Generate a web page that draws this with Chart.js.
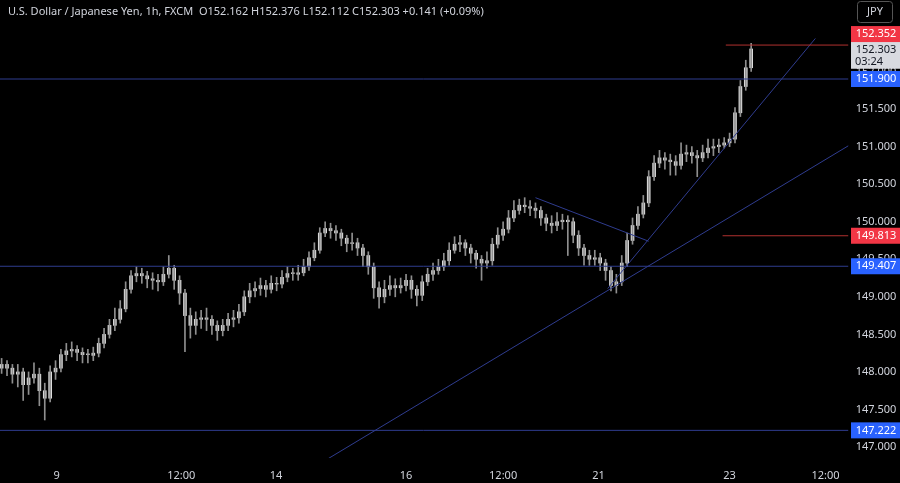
<!DOCTYPE html>
<html><head><meta charset="utf-8">
<script src="https://cdn.jsdelivr.net/npm/chart.js@4.4.1/dist/chart.umd.min.js"></script>
<style>html,body{margin:0;padding:0;background:#000;}#c{display:block;}</style>
</head><body>
<canvas id="c" width="900" height="483"></canvas>
<script>
// 2-hour candles, open = previous close
const closes=[148.10,148.05,147.97,148.00,147.83,147.92,147.97,147.75,147.65,148.00,148.05,148.23,148.28,148.30,148.26,148.23,148.22,148.25,148.38,148.50,148.62,148.70,148.84,149.10,149.28,149.31,149.28,149.24,149.22,149.20,149.30,149.38,149.22,149.05,148.75,148.62,148.70,148.72,148.70,148.62,148.55,148.62,148.70,148.72,148.80,149.00,149.08,149.11,149.15,149.10,149.18,149.17,149.26,149.31,149.30,149.32,149.40,149.52,149.62,149.85,149.91,149.88,149.85,149.78,149.71,149.72,149.65,149.55,149.40,149.12,149.00,149.10,149.15,149.12,149.15,149.22,149.10,149.02,149.20,149.30,149.35,149.40,149.48,149.62,149.70,149.72,149.65,149.58,149.50,149.45,149.48,149.70,149.82,149.90,150.05,150.15,150.22,150.20,150.18,150.15,150.05,149.98,149.95,150.00,150.02,150.00,149.82,149.65,149.55,149.50,149.52,149.45,149.35,149.15,149.20,149.45,149.75,149.95,150.10,150.25,150.60,150.78,150.85,150.82,150.80,150.75,150.90,150.92,150.88,150.85,150.92,150.98,151.00,151.02,151.05,151.10,151.45,151.80,152.05,152.30];
const firstOpen=148.05;
const highs=[148.18,148.15,148.10,148.10,148.05,148.00,148.12,148.05,147.85,148.08,148.15,148.30,148.38,148.40,148.35,148.32,148.30,148.33,148.45,148.58,148.70,148.85,148.95,149.20,149.35,149.40,149.38,149.34,149.32,149.30,149.40,149.55,149.42,149.28,149.10,148.85,148.80,148.82,148.85,148.75,148.68,148.70,148.78,148.82,148.90,149.08,149.18,149.20,149.25,149.22,149.28,149.26,149.35,149.40,149.38,149.42,149.50,149.60,149.72,149.92,150.00,149.98,149.95,149.90,149.82,149.85,149.78,149.70,149.60,149.45,149.20,149.22,149.28,149.24,149.25,149.30,149.28,149.15,149.28,149.38,149.45,149.50,149.58,149.72,149.80,149.82,149.76,149.70,149.62,149.55,149.60,149.78,149.92,150.00,150.15,150.28,150.30,150.32,150.28,150.25,150.20,150.10,150.08,150.12,150.10,150.08,150.05,149.88,149.70,149.62,149.62,149.58,149.50,149.40,149.30,149.55,149.85,150.05,150.20,150.35,150.68,150.88,150.95,150.92,150.90,150.88,151.05,151.02,151.00,150.95,151.02,151.10,151.10,151.10,151.12,151.18,151.52,151.88,152.15,152.376];
const lows=[147.98,147.95,147.85,147.80,147.62,147.70,147.85,147.55,147.36,147.60,147.90,148.00,148.15,148.20,148.15,148.12,148.12,148.15,148.20,148.32,148.45,148.55,148.65,148.80,149.05,149.20,149.18,149.12,149.10,149.08,149.15,149.25,149.10,148.90,148.27,148.45,148.50,148.58,148.55,148.50,148.42,148.48,148.55,148.60,148.65,148.75,148.92,149.00,149.02,149.00,149.05,149.08,149.12,149.20,149.22,149.22,149.28,149.35,149.48,149.58,149.80,149.78,149.75,149.68,149.60,149.62,149.55,149.40,149.30,148.98,148.85,148.92,149.02,149.00,149.05,149.08,148.98,148.88,148.95,149.15,149.22,149.30,149.35,149.42,149.58,149.60,149.55,149.45,149.38,149.22,149.38,149.42,149.65,149.75,149.85,150.00,150.10,150.12,150.08,150.05,149.95,149.88,149.85,149.88,149.90,149.55,149.72,149.55,149.42,149.42,149.42,149.35,149.22,149.08,149.05,149.15,149.40,149.70,149.90,150.05,150.20,150.55,150.72,150.70,150.62,150.62,150.70,150.80,150.78,150.60,150.80,150.85,150.88,150.92,150.98,151.00,151.05,151.40,151.75,152.00];
const tickPos=[10.2,33.3,50.9,75,93,110.7,135,152.8];
const tickText=["9","12:00","14","16","12:00","21","23","12:00"];
const priceTicks=[147.0,147.5,148.0,148.5,149.0,149.5,150.0,150.5,151.0,151.5,152.0];
const blueLevels=[151.900,149.407,147.222];
const redLevels=[152.352,149.813];
const redStart=[134.3,133.7];
const trendLines=[[[60.2,146.83],[157,151.01]],[[112.4,149.11],[150.9,152.44]],[[99,150.32],[120,149.74]]];

const opens=closes.map((c,i)=>i===0?firstOpen:closes[i-1]);
const wicks=closes.map((c,i)=>({x:i,y:[lows[i],highs[i]]}));
const bodies=closes.map((c,i)=>{let a=opens[i],b=c;if(Math.abs(a-b)<0.01)b=a+0.01;return {x:i,y:[Math.min(a,b),Math.max(a,b)]};});
const lineDs=[];
blueLevels.forEach(v=>lineDs.push({type:'line',data:[{x:-1,y:v},{x:157,y:v}],borderColor:'#2f3c8f',borderWidth:1,pointRadius:0}));
redLevels.forEach((v,k)=>lineDs.push({type:'line',data:[{x:redStart[k],y:v},{x:157,y:v}],borderColor:'#b0302f',borderWidth:1,pointRadius:0}));
trendLines.forEach(t=>lineDs.push({type:'line',data:t.map(p=>({x:p[0],y:p[1]})),borderColor:'#2f3c8f',borderWidth:1,pointRadius:0}));

const labelsPlugin={id:'lbl',afterDraw(ch){
 const c=ch.ctx,ys=ch.scales.y;
 c.save();
 c.font='11px "Noto Sans", sans-serif';c.textBaseline='middle';
 c.fillStyle='#d1d4dc';c.textAlign='center';
 priceTicks.forEach(v=>c.fillText(v.toFixed(3),876,ys.getPixelForValue(v)));
 c.textAlign='left';
 c.fillText('U.S. Dollar / Japanese Yen, 1h, FXCM  O152.162 H152.376 L152.112 C152.303 +0.141 (+0.09%)',8,12);
 c.strokeStyle='#555';c.lineWidth=1;c.beginPath();c.roundRect(857.5,1.5,35,21,3);c.stroke();
 c.fillStyle='#d1d4dc';c.textAlign='center';c.fillText('JPY',875,12);
 const box=(y,bg,fg,txt)=>{c.fillStyle=bg;c.fillRect(851,y-8,49,16);c.fillStyle=fg;c.textAlign='center';c.fillText(txt,876,y);};
 const yc=ys.getPixelForValue(152.303);
 c.fillStyle='#d8dae0';c.fillRect(851,yc-7,49,27);c.fillStyle='#131722';c.textAlign='center';
 c.fillText('152.303',876,yc+1);c.fillText('03:24',869,yc+13);
 box(ys.getPixelForValue(152.352)-11,'#f23645','#fff','152.352');
 box(ys.getPixelForValue(151.900),'#2962ff','#fff','151.900');
 box(ys.getPixelForValue(149.813),'#f23645','#fff','149.813');
 box(ys.getPixelForValue(149.407),'#2962ff','#fff','149.407');
 box(ys.getPixelForValue(147.222),'#2962ff','#fff','147.222');
 c.restore();
}};
new Chart(document.getElementById('c'),{
 type:'bar',
 data:{datasets:[
  ...lineDs,
  {data:wicks,backgroundColor:'#8f8f8f',barThickness:1,grouped:false},
  {data:bodies,backgroundColor:'#dcdcdc',barThickness:3,grouped:false}
 ]},
 options:{responsive:false,animation:false,layout:{padding:0},
  plugins:{legend:{display:false},tooltip:{enabled:false}},
  scales:{
   x:{type:'linear',offset:false,min:-0.3,max:166.6,grid:{display:false,offset:false},border:{display:false},
      afterBuildTicks(s){s.ticks=tickPos.map(v=>({value:v}));},
      afterFit(s){s.height=25;},
      ticks:{color:'#d1d4dc',font:{size:11,family:'Noto Sans'},maxRotation:0,autoSkip:false,
        callback:(v)=>{const k=tickPos.indexOf(v);return k>=0?tickText[k]:'';}}},
   y:{display:false,min:146.854,max:152.952}
  }},
 plugins:[labelsPlugin]
});
</script>
</body></html>
